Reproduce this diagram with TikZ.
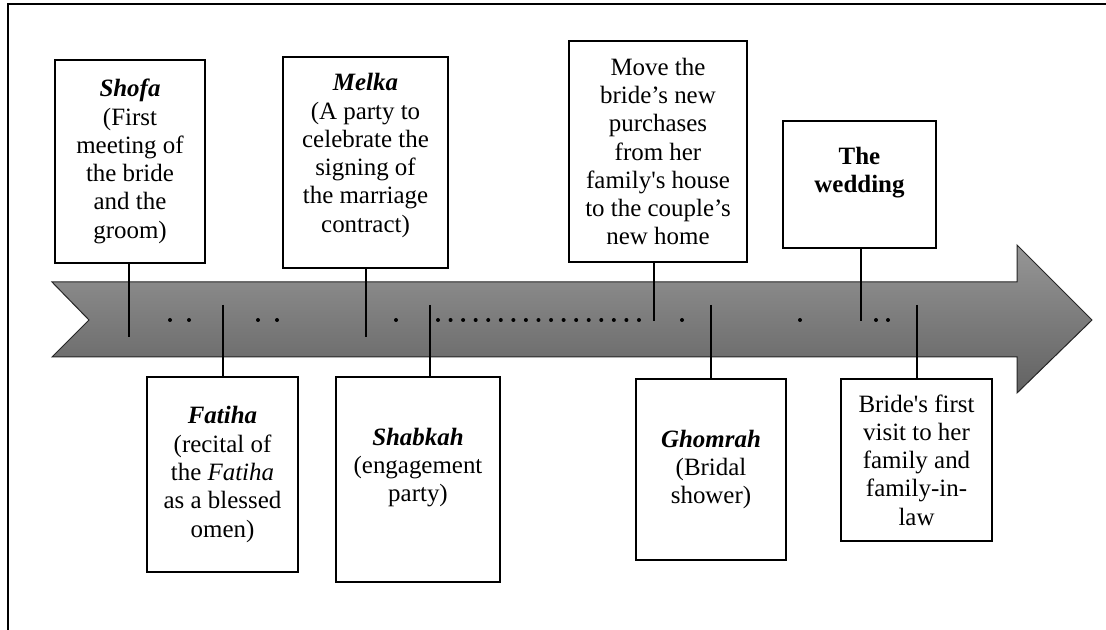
\documentclass[tikz,border=0pt]{standalone}
\usepackage{fontspec}
\setmainfont{Liberation Serif}
\usepackage{tikz}

\definecolor{arrowtop}{RGB}{150,150,150}
\definecolor{arrowbot}{RGB}{98,98,98}

\begin{document}
\begin{tikzpicture}[x=0.75pt,y=-0.75pt,
  stagebox/.style={draw, line width=1pt, fill=white, align=center, inner sep=2pt,
    font=\fontsize{18.7}{21.2}\selectfont},
  tick/.style={line width=1pt}]
             \useasboundingbox (0,0) rectangle (1106,630);

             % frame
             \draw[line width=1.5pt] (8,660) -- (8,4) -- (1130,4);

             % the time arrow
             \path[draw=black!85, line width=0.75pt, top color=arrowtop, bottom color=arrowbot]
               (52,282) -- (1017,282) -- (1017,245) -- (1092,320) -- (1017,393)
               -- (1017,357) -- (52,357) -- (89,320) -- cycle;

             \foreach \x in {170,189,258,277,396,682,800,876,888}
               \fill (\x,320) circle (1.5pt);
             \foreach \i in {0,...,16}
               \fill ({438+\i*12.56},320) circle (1.5pt);

             % stages above
             \node[stagebox, minimum width=112.5pt, minimum height=152.25pt] (shofa) at (130,161.5)
               {\textbf{\textit{Shofa}}\\(First\\meeting of\\the bride\\and the\\groom)};
             \node[stagebox, minimum width=123.75pt, minimum height=158.25pt, text depth=14.5pt] (melka) at (365.5,162.5)
               {\textbf{\textit{Melka}}\\(A party to\\celebrate the\\signing of\\the marriage\\contract)};
             \node[stagebox, minimum width=133.5pt, minimum height=165.75pt] (move) at (658,151.5)
               {Move the\\bride’s new\\purchases\\from her\\family\textquotesingle s house\\to the couple’s\\new home};
             \node[stagebox, minimum width=114.75pt, minimum height=95.25pt, text depth=22pt] (wedding) at (859.5,184.5)
               {\textbf{The}\\\textbf{wedding}};

             % stages below
             \node[stagebox, minimum width=113.25pt, minimum height=146.25pt] (fatiha) at (222.5,474.5)
               {\textbf{\textit{Fatiha}}\\(recital of\\the \textit{Fatiha}\\as a blessed\\omen)};
             \node[stagebox, minimum width=123pt, minimum height=153.75pt, text depth=22pt] (shabkah) at (418,479.5)
               {\textbf{\textit{Shabkah}}\\(engagement\\party)};
             \node[stagebox, minimum width=112.5pt, minimum height=135.75pt] (ghomrah) at (711,469.5)
               {\textbf{\textit{Ghomrah}}\\(Bridal\\shower)};
             \node[stagebox, minimum width=113.25pt, minimum height=121.5pt] (visit) at (916.5,460)
               {Bride\textquotesingle s first\\visit to her\\family and\\family-in-\\law};

             % ticks on the arrow
             \coordinate (shofaend) at (129,337);
             \coordinate (melkaend) at (366,337);
             \coordinate (moveend) at (654,321);
             \coordinate (weddingend) at (861,321);
             \coordinate (fatihaend) at (223,305);
             \coordinate (shabkahend) at (430,305);
             \coordinate (ghomrahend) at (711,305);
             \coordinate (visitend) at (917,305);

             \draw[tick] (shofaend) -- (shofaend |- shofa.south);
             \draw[tick] (melkaend) -- (melkaend |- melka.south);
             \draw[tick] (moveend) -- (moveend |- move.south);
             \draw[tick] (weddingend) -- (weddingend |- wedding.south);
             \draw[tick] (fatihaend) -- (fatihaend |- fatiha.north);
             \draw[tick] (shabkahend) -- (shabkahend |- shabkah.north);
             \draw[tick] (ghomrahend) -- (ghomrahend |- ghomrah.north);
             \draw[tick] (visitend) -- (visitend |- visit.north);
             \end{tikzpicture}
\end{document}
